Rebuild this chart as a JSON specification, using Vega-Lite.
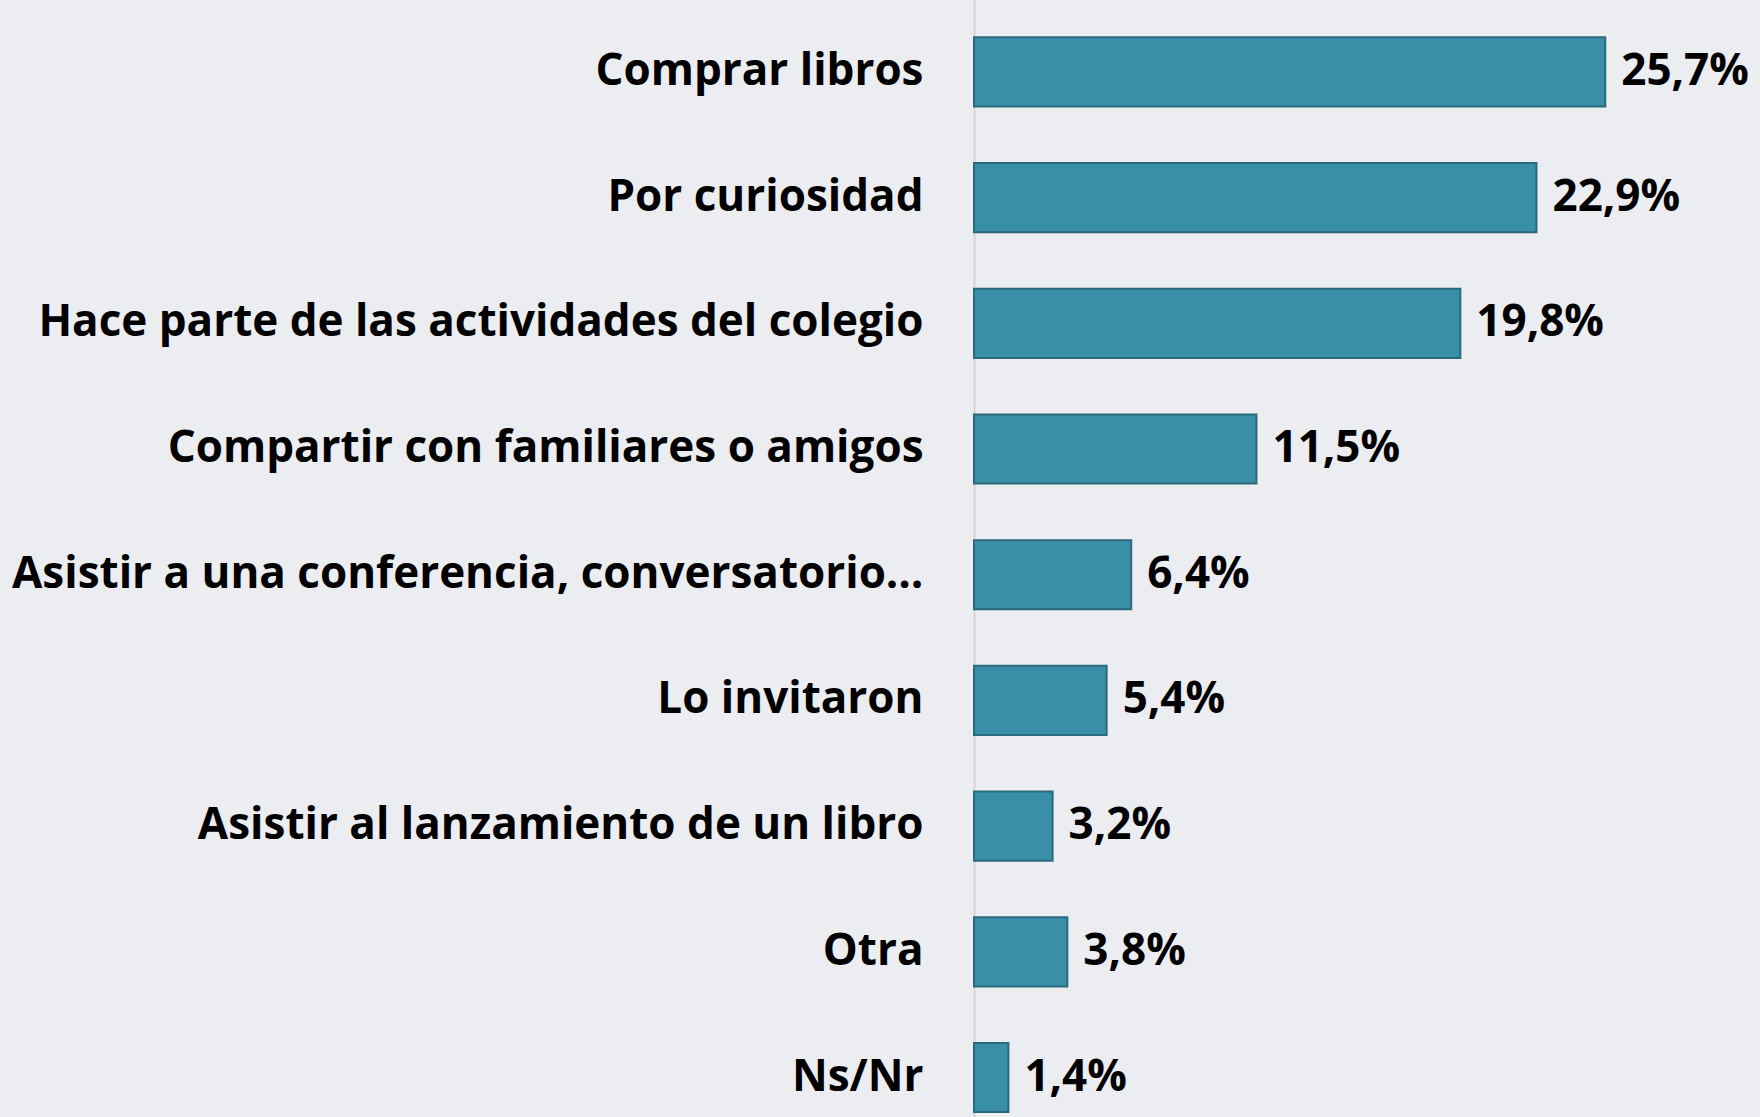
{
  "$schema": "https://vega.github.io/schema/vega-lite/v6.json",
  "autosize": "none",
  "padding": {"left": 974, "top": 0, "right": 0, "bottom": 0},
  "width": 786,
  "height": 1117,
  "background": "#ecedf0",
  "config": {"view": {"stroke": null}},
  "data": {"values": [
    {"cat": "Comprar libros", "val": 25.7, "lab": "25,7%"},
    {"cat": "Por curiosidad", "val": 22.9, "lab": "22,9%"},
    {"cat": "Hace parte de las actividades del colegio", "val": 19.8, "lab": "19,8%"},
    {"cat": "Compartir con familiares o amigos", "val": 11.5, "lab": "11,5%"},
    {"cat": "Asistir a una conferencia, conversatorio…", "val": 6.4, "lab": "6,4%"},
    {"cat": "Lo invitaron", "val": 5.4, "lab": "5,4%"},
    {"cat": "Asistir al lanzamiento de un libro", "val": 3.2, "lab": "3,2%"},
    {"cat": "Otra", "val": 3.8, "lab": "3,8%"},
    {"cat": "Ns/Nr", "val": 1.4, "lab": "1,4%"}
  ]},
  "encoding": {
    "y": {"field": "cat", "type": "nominal", "sort": null, "title": null,
      "scale": {"paddingInner": 0.45, "paddingOuter": 0.168, "align": 0.884},
      "axis": {"ticks": false, "labelPadding": 51, "labelFont": "Open Sans", "labelFontWeight": "bold", "labelFontSize": 44, "labelColor": "#000000", "domainColor": "#d6d6d6", "domainWidth": 2, "labelLimit": 1000}},
    "x": {"field": "val", "type": "quantitative", "scale": {"domain": [0, 32]}, "axis": null}
  },
  "layer": [
    {"mark": {"type": "bar", "color": "#3a8fa8", "stroke": "#2a6a7c", "strokeWidth": 2}},
    {"mark": {"type": "text", "align": "left", "dx": 16, "font": "Open Sans", "fontWeight": "bold", "fontSize": 44, "color": "#000000"},
     "encoding": {"text": {"field": "lab"}}}
  ]
}
